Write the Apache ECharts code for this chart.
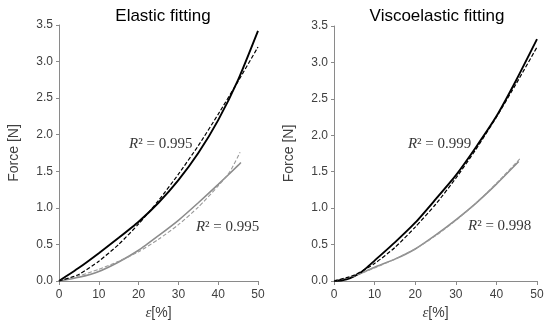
<!DOCTYPE html>
<html><head><meta charset="utf-8">
<script src="https://cdn.jsdelivr.net/npm/echarts@6/dist/echarts.min.js"></script>
<style>html,body{margin:0;padding:0;background:#fff}#c{width:550px;height:328px}</style>
</head><body><div id="c"></div>
<script>
// ---- data ----
const titles = ['Elastic fitting', 'Viscoelastic fitting'];
const xTicks = [0, 10, 20, 30, 40, 50];
const yTicks = [0, 0.5, 1.0, 1.5, 2.0, 2.5, 3.0, 3.5];

// Elastic panel
const elStrainExpBlack = [0, 5, 10, 15, 20, 25, 30, 35, 40, 45, 50];
const elExpBlack       = [0, 0.18, 0.38, 0.59, 0.81, 1.07, 1.38, 1.75, 2.2, 2.75, 3.42];
const elStrainFitBlack = [0, 5, 10, 15, 20, 25, 30, 35, 40, 45, 50];
const elFitBlack       = [0, 0.09, 0.27, 0.5, 0.78, 1.1, 1.46, 1.85, 2.28, 2.73, 3.2];
const elStrainExpGray  = [0, 5, 10, 15, 20, 25, 30, 35, 40, 45, 45.7];
const elExpGray        = [0, 0.05, 0.13, 0.26, 0.42, 0.62, 0.83, 1.07, 1.32, 1.58, 1.62];
const elStrainFitGray  = [0, 5, 10, 15, 20, 25, 30, 35, 40, 43, 45.5];
const elFitGray        = [0, 0.07, 0.16, 0.27, 0.4, 0.57, 0.77, 1.01, 1.3, 1.5, 1.76];

// Viscoelastic panel
const veStrainExpBlack = [0, 2, 4, 6.4, 8, 10, 15, 20, 25, 30, 35, 40, 45, 50];
const veExpBlack       = [0, 0.01, 0.04, 0.11, 0.18, 0.28, 0.53, 0.8, 1.12, 1.45, 1.84, 2.26, 2.77, 3.32];
const veStrainFitBlack = [0, 5, 10, 15, 20, 25, 30, 35, 40, 45, 50];
const veFitBlack       = [0, 0.08, 0.24, 0.46, 0.74, 1.05, 1.41, 1.81, 2.25, 2.72, 3.21];
const veStrainExpGray  = [0, 3, 6.4, 10, 15, 20, 25, 30, 35, 40, 45.5];
const veExpGray        = [0, 0.03, 0.1, 0.19, 0.3, 0.44, 0.63, 0.84, 1.07, 1.33, 1.64];
const veStrainFitGray  = [0, 5, 10, 15, 20, 25, 30, 35, 40, 46];
const veFitGray        = [0, 0.07, 0.18, 0.3, 0.44, 0.62, 0.83, 1.07, 1.34, 1.69];

// R² annotations: [panel, strain, force, value]
const r2Labels = [
  [0, 17.6, 1.87, '0.995'],
  [0, 34.4, 0.74, '0.995'],
  [1, 18.2, 1.88, '0.999'],
  [1, 33.0, 0.76, '0.998']
];

// ---- chart ----
const pairs = (xs, ys) => xs.map((x, i) => [x, ys[i]]);
const axisGray = '#8a8a8a';
const labelColor = '#404040';

function xAxis(i) {
  return {
    type: 'value', gridIndex: i, min: 0, max: 50, interval: 10,
    name: '{e|ε}[%]', nameLocation: 'middle', nameGap: 23,
    nameTextStyle: { fontFamily: 'Liberation Sans', fontSize: 14, color: labelColor,
      rich: { e: { fontFamily: 'Liberation Serif', fontStyle: 'italic', fontSize: 15, color: labelColor } } },
    axisLine: { lineStyle: { color: axisGray, width: 1 } },
    axisTick: { show: true, length: 4, lineStyle: { color: axisGray } },
    axisLabel: { fontFamily: 'Liberation Sans', fontSize: 12, color: labelColor, margin: 8 },
    splitLine: { show: false }
  };
}
function yAxis(i) {
  return {
    type: 'value', gridIndex: i, min: 0, max: 3.5, interval: 0.5,
    name: 'Force [N]', nameLocation: 'middle', nameGap: 38,
    nameTextStyle: { fontFamily: 'Liberation Sans', fontSize: 14, color: labelColor },
    axisLine: { show: true, lineStyle: { color: axisGray, width: 1 } },
    axisTick: { show: true, length: 3, lineStyle: { color: axisGray } },
    axisLabel: { fontFamily: 'Liberation Sans', fontSize: 12, color: labelColor, margin: 6,
      formatter: v => v.toFixed(1) },
    splitLine: { show: false }
  };
}
function line(i, xs, ys, color, width, dashed) {
  return {
    type: 'line', xAxisIndex: i, yAxisIndex: i, data: pairs(xs, ys),
    showSymbol: false, smooth: 0.2, silent: true,
    lineStyle: { color: color, width: width, type: dashed ? [4, 2] : 'solid' },
    z: dashed ? 3 : 2
  };
}
const series = [
  line(0, elStrainExpGray, elExpGray, '#8c8c8c', 1.6, false),
  line(0, elStrainFitGray, elFitGray, '#9a9a9a', 1.1, true),
  line(0, elStrainExpBlack, elExpBlack, '#000', 1.9, false),
  line(0, elStrainFitBlack, elFitBlack, '#000', 1.2, true),
  line(1, veStrainExpGray, veExpGray, '#8c8c8c', 1.6, false),
  line(1, veStrainFitGray, veFitGray, '#9a9a9a', 1.1, true),
  line(1, veStrainExpBlack, veExpBlack, '#000', 1.9, false),
  line(1, veStrainFitBlack, veFitBlack, '#000', 1.2, true)
];
[0, 1].forEach(p => {
  series.push({
    type: 'scatter', xAxisIndex: p, yAxisIndex: p, symbolSize: 0, silent: true,
    data: r2Labels.filter(l => l[0] === p).map(l => ({ value: [l[1], l[2]], v: l[3] })),
    label: {
      show: true, position: 'right', distance: 0,
      formatter: (d) => '{r|R}{t|² = ' + d.data.v + '}',
      rich: {
        r: { fontFamily: 'Liberation Serif', fontStyle: 'italic', fontSize: 15, color: '#000' },
        t: { fontFamily: 'Liberation Serif', fontSize: 15, color: '#000' }
      }
    }
  });
});

const chart = echarts.init(document.getElementById('c'), null, { renderer: 'canvas' });
chart.setOption({
  animation: false,
  backgroundColor: '#fff',
  title: [
    { text: titles[0], left: 158, top: 3, textAlign: 'center',
      textStyle: { fontFamily: 'Liberation Sans', fontSize: 17, fontWeight: 'normal', color: '#000' } },
    { text: titles[1], left: 432, top: 3, textAlign: 'center',
      textStyle: { fontFamily: 'Liberation Sans', fontSize: 17, fontWeight: 'normal', color: '#000' } }
  ],
  grid: [
    { left: 59, right: 292, top: 25, bottom: 47 },
    { left: 334, right: 13, top: 26, bottom: 47 }
  ],
  xAxis: [xAxis(0), xAxis(1)],
  yAxis: [yAxis(0), yAxis(1)],
  series: series
});
</script>
</body></html>
